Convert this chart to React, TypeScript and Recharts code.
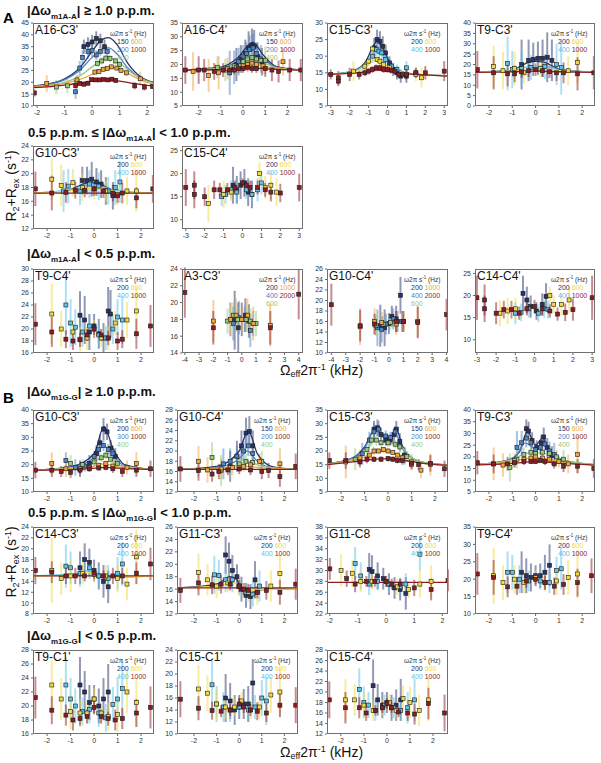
import React from 'react';
import { ComposedChart, Scatter, Line, XAxis, YAxis, ErrorBar } from 'recharts';

type P = [number, number, number];
type C = [number, number];

const NAVY = '#28336a';
const BLUE = '#4c84c6';
const CYAN = '#5dc1ec';
const GREEN = '#96ca78';
const ORANGE = '#f1a43a';
const YELLOW = '#f2d93b';
const RED = '#8c1c24';
const FONT = '"Liberation Sans", Arial, Helvetica, sans-serif';

// ---------- legends ----------
const LEG_A: [string, string][][] = [[['150', NAVY], ['600', ORANGE]], [['200', BLUE], ['1000', RED]], [['400', GREEN]]];
const LEG_C: [string, string][][] = [[['200', NAVY], ['600', YELLOW]], [['400', CYAN], ['1000', RED]]];
const LEG_D: [string, string][][] = [[['200', NAVY], ['1000', ORANGE]], [['400', BLUE], ['2000', RED]], [['600', GREEN]]];
const LEG_E: [string, string][][] = [[['200', NAVY], ['600', ORANGE]], [['300', BLUE], ['1000', RED]], [['400', GREEN]]];

// ---------- ticks ----------
const T2 = [-2, -1, 0, 1, 2];
const T3 = [-3, -2, -1, 0, 1, 2, 3];
const T4 = [-4, -3, -2, -1, 0, 1, 2, 3, 4];

// ---------- 1: A16-C3' ----------
const d1_1000: P[] = [[-2.1, 15.5, 1.5], [-0.6, 18.6, 1], [-0.45, 19.5, 0.8], [-0.3, 19.2, 1], [-0.15, 19.6, 1], [-0.02, 21.1, 0.8], [0.12, 21, 0.8], [0.27, 21, 0.8], [0.42, 21.2, 0.8], [0.57, 21, 0.8], [0.72, 21.3, 0.8], [0.86, 20.8, 1], [1.55, 18.5, 1.5], [1.9, 18, 1.5], [2.2, 18.2, 1]];
const d1_600: P[] = [[-1.65, 19.5, 3.5], [-0.55, 21, 2], [0.1, 24.3, 1], [0.25, 24.6, 1], [0.4, 25.5, 1], [0.55, 25.8, 1], [0.7, 26.5, 1], [0.9, 26, 1], [1.05, 25, 1.2], [1.25, 24, 1.5], [1.75, 21.5, 3]];
const d1_400: P[] = [[-1.3, 18, 3], [-0.9, 18.5, 3], [-0.55, 20, 3], [0.2, 28, 1.5], [0.35, 29, 1.5], [0.5, 30.2, 1.5], [0.65, 30, 1.5], [0.85, 29, 1.5], [1.0, 27.5, 1.5]];
const d1_200: P[] = [[-0.6, 16, 3], [-0.45, 26, 3], [-0.35, 30.5, 3], [-0.15, 33, 3], [0.0, 33.5, 3], [0.15, 31.5, 2], [0.3, 33, 2], [0.55, 33, 2]];
const d1_150: P[] = [[-0.3, 35, 3], [-0.15, 36, 3], [0.0, 37, 3], [0.15, 38.5, 3], [0.3, 37.5, 3], [0.45, 35, 3]];
const f1_1000: C[] = [[-2.15, 17.8], [-1.5, 18.2], [-1, 18.8], [-0.5, 19.6], [0, 20.5], [0.5, 21], [1, 20.5], [1.5, 19.5], [2, 18.7], [2.25, 18.4]];
const f1_600: C[] = [[-2.15, 18], [-1.5, 18.6], [-1, 19.5], [-0.5, 21], [0, 23.3], [0.5, 25.8], [0.8, 26.2], [1.1, 25], [1.5, 22.5], [2, 20], [2.25, 19.3]];
const f1_400: C[] = [[-2.15, 18.2], [-1.5, 18.9], [-1, 20], [-0.5, 22.3], [0, 26.5], [0.4, 29.7], [0.65, 30.2], [1, 28], [1.5, 23.5], [2, 20.5], [2.25, 19.6]];
const f1_200: C[] = [[-2.15, 18.4], [-1.5, 19.3], [-1, 21], [-0.5, 24.5], [0, 30.5], [0.35, 34], [0.6, 34.5], [0.9, 32], [1.3, 26], [1.8, 21.5], [2.25, 19.9]];
const f1_150: C[] = [[-2.15, 18.5], [-1.5, 19.5], [-1, 21.5], [-0.5, 25.5], [0, 33], [0.35, 38], [0.6, 38.8], [0.9, 36], [1.3, 28], [1.8, 22], [2.25, 20]];

// ---------- 2: A16-C4' ----------
const d2_1000: P[] = [[-2.6, 18, 5], [-2.0, 18, 5], [-1.75, 18, 4], [-1.3, 17.5, 3], [-0.9, 18, 2.5], [-0.6, 18, 2], [-0.4, 18, 1.5], [-0.2, 18.5, 1.5], [0, 18.5, 1.5], [0.2, 19, 1.5], [0.4, 18.5, 1.5], [0.6, 18.5, 1.5], [1.0, 18.5, 3], [1.3, 18, 4], [1.6, 17.5, 4], [2.1, 18, 4], [2.6, 18, 4]];
const d2_600: P[] = [[-2.25, 17.5, 7], [-1.55, 16, 6], [-1.1, 17, 6], [-0.7, 18.5, 4], [-0.3, 19, 3], [0, 19.5, 2], [0.2, 20, 2], [0.4, 20.5, 2], [0.6, 20, 2], [0.9, 19.5, 3], [1.8, 21, 5]];
const d2_400: P[] = [[-1.15, 19, 4], [-0.8, 18, 4], [-0.4, 19.5, 3], [0, 21, 2.5], [0.2, 22, 2.5], [0.4, 22.5, 2.5], [0.6, 22, 2.5], [0.8, 21.5, 3], [1.0, 21.5, 5]];
const d2_200: P[] = [[-0.6, 17, 8], [-0.4, 19, 6], [-0.2, 21, 5], [0, 23, 4], [0.15, 24, 4], [0.3, 25.5, 5], [0.45, 26, 5], [0.6, 24, 4], [0.8, 22, 5]];
const d2_150: P[] = [[-0.3, 20, 6], [-0.1, 22, 5], [0.1, 24, 5], [0.25, 26, 6], [0.4, 27, 6], [0.5, 26.5, 6], [0.65, 23, 5], [0.85, 21, 5]];
const f2_1000: C[] = [[-2.75, 18], [-1, 18.2], [0, 18.6], [0.4, 18.8], [1, 18.4], [2.7, 18]];
const f2_600: C[] = [[-2.75, 18], [-1, 18.4], [-0.3, 19.3], [0.4, 20.5], [0.9, 19.6], [1.5, 18.5], [2.7, 18]];
const f2_400: C[] = [[-2.75, 18], [-1, 18.6], [-0.3, 20], [0.4, 22.5], [0.9, 20.8], [1.5, 18.8], [2.7, 18]];
const f2_200: C[] = [[-2.75, 18], [-1, 18.8], [-0.3, 21], [0.4, 25], [0.9, 22], [1.5, 19], [2.7, 18]];
const f2_150: C[] = [[-2.75, 18], [-1, 19], [-0.3, 22], [0.45, 28], [0.9, 23.5], [1.5, 19.2], [2.7, 18]];

// ---------- 3: C15-C3' ----------
const d3_1000: P[] = [[-3.0, 14.5, 1.5], [-2.6, 13.5, 2], [-2.6, 12.5, 1.5], [-2.0, 14.5, 2], [-1.5, 14.5, 1.5], [-1.2, 15, 1], [-1.0, 15.5, 1], [-0.8, 16, 1], [-0.6, 16.5, 1], [-0.4, 16.5, 1], [-0.2, 16, 1], [0, 16, 1], [0.2, 15.8, 1], [0.4, 15.5, 1], [0.6, 14.5, 1], [0.8, 14.5, 1], [1.0, 14.5, 1.5], [1.5, 15, 1.5], [2.0, 15, 2], [3.0, 15.5, 3]];
const d3_600: P[] = [[-1.8, 15.5, 3], [-1.2, 17, 2], [-1.0, 18.5, 1.5], [-0.8, 22.2, 1.5], [-0.55, 19, 1], [-0.4, 18.5, 1], [-0.2, 17.5, 1], [0.1, 16.5, 1], [1.5, 14.5, 2], [1.8, 13.5, 3]];
const d3_400: P[] = [[-0.8, 20, 2], [-0.6, 22, 2], [-0.45, 21.5, 2], [-0.3, 21, 2], [-0.1, 19, 1.5], [0.2, 17, 1.5], [0.5, 16, 1.5], [1.0, 16.5, 2], [1.5, 15, 1.5]];
const d3_200: P[] = [[-0.7, 22.5, 3], [-0.55, 25, 3], [-0.4, 24.5, 3], [-0.25, 23, 3], [-0.1, 21, 2.5], [0.1, 18, 2], [0.3, 16, 2], [0.5, 15, 2], [0.7, 14, 2], [1.0, 14, 2]];
const f3_1000: C[] = [[-3.2, 14.5], [-2, 14.8], [-1.2, 15.3], [-0.6, 15.8], [0, 15.5], [0.6, 14.9], [1.5, 14.5], [3.2, 14]];
const f3_600: C[] = [[-3.2, 14.5], [-2, 15], [-1.2, 16.5], [-0.8, 18.5], [-0.5, 18.8], [-0.2, 17.8], [0.3, 16], [0.8, 15], [1.5, 14.6], [3.2, 14.1]];
const f3_400: C[] = [[-3.2, 14.5], [-2, 15.2], [-1.2, 17.5], [-0.75, 21], [-0.5, 21.5], [-0.2, 20], [0.3, 16.8], [0.8, 15.2], [1.5, 14.6], [3.2, 14.1]];
const f3_200: C[] = [[-3.2, 14.5], [-2, 15.3], [-1.2, 18], [-0.8, 22.5], [-0.55, 24.5], [-0.3, 23], [0.1, 18.5], [0.6, 15.5], [1.5, 14.6], [3.2, 14.1]];

// ---------- 4: T9-C3' ----------
const d4_1000: P[] = [[-2.5, 17.5, 9], [-1.8, 16, 8], [-1.2, 15.5, 6], [-0.9, 15.5, 4], [-0.6, 16.5, 3], [-0.3, 17, 3], [0, 17.5, 3], [0.3, 17, 3], [0.6, 16.5, 3], [0.9, 16, 4], [1.2, 16, 5], [1.8, 15.5, 8], [2.5, 16, 8]];
const d4_600: P[] = [[-1.8, 19, 10], [-1.4, 17, 9], [-0.9, 18, 8], [-0.5, 16, 5], [0.2, 18, 4], [1.4, 17, 7], [1.8, 21, 10]];
const d4_400: P[] = [[-1.2, 20.5, 13], [-1.0, 17.5, 9], [-0.6, 18, 8], [-0.2, 18.5, 6], [0.4, 19, 6], [0.9, 20, 10], [1.1, 18.5, 13]];
const d4_200: P[] = [[-0.6, 20, 12], [-0.3, 22, 10], [-0.1, 22.5, 8], [0.1, 23, 8], [0.3, 23, 9], [0.5, 23.5, 12], [0.7, 22, 10]];
const f4_1000: C[] = [[-2.6, 16.2], [-1, 16.5], [0, 16.8], [1, 16.5], [2.55, 16.2]];
const f4_600: C[] = [[-2.6, 16.3], [-1, 16.8], [-0.5, 17.5], [0, 18], [0.5, 17.8], [1, 17], [2.55, 16.3]];
const f4_400: C[] = [[-2.6, 16.3], [-1, 17], [-0.5, 18.5], [0, 19.3], [0.5, 19], [1, 17.5], [2.55, 16.3]];
const f4_200: C[] = [[-2.6, 16.3], [-1, 17.2], [-0.6, 19.5], [-0.3, 21], [0, 21.5], [0.3, 21.3], [0.6, 20], [1, 17.8], [2.55, 16.3]];

// ---------- 5: G10-C3' ----------
const d5_1000: P[] = [[-2.5, 17.8, 2.5], [-1.8, 17.2, 2.5], [-1.2, 17.3, 1.5], [-0.8, 17.6, 1.2], [-0.4, 17.6, 1], [0, 17.8, 1], [0.4, 17.5, 1], [0.8, 17.2, 1.2], [1.0, 16.8, 1], [1.2, 17.2, 1.5], [1.8, 16.5, 1.5], [2.5, 17.8, 2]];
const d5_600: P[] = [[-1.8, 19.2, 3], [-1.4, 18.3, 3], [-0.9, 18.7, 2], [-0.5, 18, 2], [0, 17.8, 1.5], [0.5, 17.5, 1.5], [1.0, 17, 1.5], [1.4, 17.5, 2], [1.8, 17.5, 3]];
const d5_400: P[] = [[-1.3, 17.5, 3], [-1.1, 18.2, 2.5], [-0.6, 17.5, 2], [-0.2, 18.5, 2], [0.2, 18.2, 2], [0.6, 17.5, 2], [0.9, 18, 2.5], [1.1, 18.8, 3]];
const d5_200: P[] = [[-0.5, 19, 2], [-0.3, 19, 2], [-0.1, 19.2, 2.5], [0.1, 18.8, 2], [0.3, 18.5, 2], [0.5, 17.5, 2], [0.8, 16.8, 2]];
const f5_1000: C[] = [[-2.6, 17.2], [0, 17.2], [2.5, 17.2]];
const f5_600: C[] = [[-2.6, 17.2], [-1, 17.5], [0, 17.9], [1, 17.4], [2.5, 17.2]];
const f5_400: C[] = [[-2.6, 17.2], [-1, 17.7], [-0.1, 18.5], [1, 17.5], [2.5, 17.2]];
const f5_200: C[] = [[-2.6, 17.2], [-1.2, 17.5], [-0.2, 18.7], [0.2, 18.5], [1, 17.4], [2.5, 17.2]];

// ---------- 6: C15-C4' ----------
const d6_1000: P[] = [[-3.0, 17, 4], [-2.55, 15.5, 3], [-2.55, 17.5, 3], [-2.0, 15, 2], [-1.5, 16.5, 2], [-1.2, 16.5, 1.5], [-0.8, 16.5, 1.5], [-0.4, 17, 1.5], [0, 18, 1], [0.2, 17.5, 1], [0.4, 17, 1.5], [0.8, 17, 1.5], [1.2, 16.5, 1.5], [1.5, 16, 2], [2.0, 15.8, 2], [3.0, 17, 3]];
const d6_600: P[] = [[-1.8, 13.5, 4], [-1.0, 15.5, 3], [-0.6, 16, 2], [0.9, 20, 2.5], [1.2, 17, 2.5], [1.5, 17.5, 3], [1.8, 16, 3]];
const d6_400: P[] = [[-1.1, 15, 2], [-0.9, 15.5, 2], [-0.6, 16.5, 2], [-0.3, 16, 2.5], [0.2, 16.5, 2], [0.5, 15.5, 2], [0.8, 16.5, 2.5], [1.0, 18, 2.5]];
const d6_200: P[] = [[-0.5, 17.5, 4], [-0.3, 16.5, 3], [-0.1, 17.5, 3], [0.1, 18, 3], [0.3, 16, 3], [0.5, 15.5, 3]];

// ---------- 7: T9-C4' (A) ----------
const d7_1000: P[] = [[-2.5, 20.8, 3.5], [-1.8, 19.5, 2.5], [-1.2, 18.3, 1.5], [-0.9, 18, 1.5], [-0.6, 18.2, 1.2], [-0.3, 19, 1], [0, 20, 1], [0.3, 19, 1], [0.6, 18.5, 1.2], [1.0, 18, 1.5], [1.2, 18.3, 1.5], [1.8, 19.2, 2.5], [2.4, 20.5, 3.5]];
const d7_600: P[] = [[-1.8, 22.5, 5], [-1.4, 20, 3], [-0.9, 19.5, 2], [-0.6, 18.3, 2], [-0.3, 18.5, 2], [0, 20, 1.5], [0.3, 18.5, 1.5], [0.6, 18.5, 2], [0.9, 21, 2], [1.4, 21.5, 3], [1.8, 23, 4]];
const d7_400: P[] = [[-1.2, 24, 5], [-1.0, 21, 4], [-0.8, 20.3, 3], [-0.5, 19.5, 2.5], [-0.2, 20.5, 2], [0.2, 19, 2], [0.5, 18.5, 2], [0.8, 20, 2.5], [1.0, 22, 3], [1.2, 21.5, 4]];
const d7_200: P[] = [[-0.6, 22.3, 4], [-0.4, 21.5, 4], [-0.2, 19.5, 3], [0, 20.5, 2], [0.2, 19.2, 2.5], [0.4, 18.5, 2.5], [0.6, 23, 4], [0.7, 22.5, 4]];

// ---------- 8: A3-C3' ----------
const d8_2000: P[] = [[-4, 21.2, 3], [-2, 17, 2], [2, 17, 2], [4, 21, 3]];
const d8_1000: P[] = [[-2, 17.8, 2.5], [-0.8, 18, 2], [-0.4, 18.5, 2], [0, 18, 1.5], [0.4, 18.5, 2], [0.8, 17.5, 2], [2, 17.3, 2.5]];
const d8_600: P[] = [[-1.0, 17.8, 1.5], [-0.6, 18.5, 1.5], [-0.3, 18, 1.5], [0.3, 18, 1.5], [0.6, 17.8, 1.5], [1.0, 17.5, 1.5]];
const d8_400: P[] = [[-0.8, 18, 2], [-0.6, 17.5, 2], [-0.2, 18.2, 2], [0.2, 18, 1.5], [0.6, 16.7, 2], [0.8, 17.5, 1.5]];
const d8_200: P[] = [[-0.5, 17.9, 3.5], [-0.25, 17, 3], [0, 18, 2], [0.25, 18.5, 2], [0.5, 17.8, 2]];

// ---------- 9: G10-C4' (A) ----------
const d9_2000: P[] = [[-4, 19.2, 4], [-2, 15.2, 3], [-1, 15.5, 2], [0.5, 16, 2], [1, 16, 2], [2, 15.8, 3], [4, 17.3, 3]];
const d9_1000: P[] = [[-2, 15, 3.5], [-1, 16, 2.5], [-0.5, 15.8, 2], [0.5, 15.5, 2], [1, 16, 2], [2, 16, 3]];
const d9_600: P[] = [[-0.9, 15.2, 2], [-0.4, 15.5, 1.5], [0.1, 15.8, 1.5], [0.5, 15.8, 1.5], [1, 16, 1.5]];
const d9_400: P[] = [[-0.8, 14.8, 3.5], [-0.5, 14.5, 2.5], [-0.2, 15.5, 2], [0.3, 16.5, 2], [0.6, 16, 2], [0.9, 16, 2]];
const d9_200: P[] = [[-0.6, 15.2, 4], [-0.3, 14.8, 3.5], [0, 15.6, 2], [0.2, 17, 2], [0.5, 16.5, 2.5], [0.8, 21, 3.5]];

// ---------- 10: C14-C4' ----------
const d10_1000: P[] = [[-3, 19.5, 5], [-2.6, 19, 3.5], [-2.6, 17, 3], [-2, 16, 2.5], [-1.6, 16.8, 2], [-1.2, 16.8, 2], [-0.8, 16, 1.5], [-0.4, 17, 1.5], [0, 17.5, 1.5], [0.4, 17, 1.5], [0.8, 16.5, 1.5], [1.2, 15.8, 1.5], [1.6, 16.2, 2], [2, 16.8, 2.5], [3, 19.5, 5]];
const d10_600: P[] = [[-1.8, 16, 3], [-1.4, 16.5, 3], [-1.0, 17, 2.5], [0.8, 20, 2], [1.0, 18, 2], [1.4, 18, 2.5], [1.8, 19, 3]];
const d10_400: P[] = [[-1.0, 16, 2.5], [-0.7, 16.2, 2], [-0.3, 17, 2], [0.2, 16, 2], [0.5, 17, 2], [0.7, 16.8, 2]];
const d10_200: P[] = [[-0.6, 20.5, 4], [-0.4, 19, 3], [-0.2, 17.5, 2.5], [0.1, 16.5, 2], [0.4, 18, 2.5], [0.6, 19.8, 3]];

// ---------- 11: G10-C3' (B) ----------
const d11_1000: P[] = [[-2.5, 18, 3], [-1.8, 18, 2.5], [-1.4, 17.5, 2], [-1, 17.2, 2], [-0.6, 18, 1.5], [-0.2, 18.5, 1], [0.2, 18.8, 1], [0.5, 19, 1], [0.8, 18.5, 1.5], [1.2, 17.5, 2], [1.8, 18, 2.5], [2.4, 18.5, 3]];
const d11_600: P[] = [[-1.8, 20.5, 4], [-1.2, 18.5, 3], [-0.6, 18.5, 2], [-0.2, 19, 1.5], [0.2, 19.8, 1], [0.5, 20.5, 1], [0.8, 19.5, 1.5], [1.4, 19, 2.5], [1.8, 20.5, 4]];
const d11_400: P[] = [[-1.0, 20.5, 3], [-0.5, 20, 2], [0, 21, 1.5], [0.3, 22.5, 1.5], [0.5, 23.5, 1.5], [0.7, 22, 1.5], [1.0, 20.5, 2]];
const d11_300: P[] = [[-1.2, 21.5, 3], [-0.8, 19, 3], [-0.4, 19.5, 2], [0, 23, 2], [0.2, 25.5, 2], [0.4, 27, 2], [0.6, 25.5, 2], [0.8, 24, 3]];
const d11_200: P[] = [[-0.6, 18.5, 3], [-0.2, 20.5, 3], [0.1, 24, 3], [0.25, 28, 3], [0.4, 33, 4], [0.55, 32, 3], [0.7, 26, 3], [0.9, 23, 3]];
const f11_1000: C[] = [[-2.6, 18], [-1, 18.2], [0, 18.7], [0.5, 19], [1, 18.7], [2.5, 18.2]];
const f11_600: C[] = [[-2.6, 18], [-1, 18.5], [0, 19.5], [0.4, 20.3], [1, 19.2], [2.5, 18.2]];
const f11_400: C[] = [[-2.6, 18], [-1, 18.8], [0, 21], [0.45, 23], [1, 20], [2.5, 18.2]];
const f11_300: C[] = [[-2.6, 18], [-1, 19], [0, 22.5], [0.4, 27], [0.8, 23.5], [1.3, 19.5], [2.5, 18.2]];
const f11_200: C[] = [[-2.6, 18], [-1, 19.2], [0, 24], [0.42, 34], [0.8, 26], [1.3, 20], [2.5, 18.2]];

// ---------- 12: G10-C4' (B) ----------
const d12_1000: P[] = [[-2.6, 16.5, 2.5], [-1.8, 16.2, 2], [-1.2, 15.5, 1.5], [-0.9, 16, 1.5], [-0.5, 16.3, 1], [0, 16.5, 1], [0.5, 16.3, 1], [1.0, 16, 1.5], [1.3, 16.2, 1.5], [1.8, 15, 2], [2.5, 17, 2.5]];
const d12_600: P[] = [[-1.8, 18, 3], [-1.4, 16.3, 2.5], [-0.8, 16.5, 2], [-0.3, 16.8, 1.5], [0.2, 17, 1], [0.5, 17.3, 1], [0.9, 18, 1.5], [1.8, 17.5, 3]];
const d12_400: P[] = [[-1.2, 18.7, 3], [-0.8, 16.2, 3], [-0.4, 16.8, 2], [0, 17.5, 1.5], [0.3, 18, 1.5], [0.6, 17.8, 1.5], [1.0, 18, 2]];
const d12_200: P[] = [[-0.7, 17.5, 3], [-0.4, 18, 2.5], [-0.1, 19, 2], [0.2, 20, 2], [0.4, 21, 2], [0.6, 19.5, 2]];
const d12_150: P[] = [[-0.4, 17, 3], [-0.1, 19, 3], [0.1, 21, 3], [0.3, 23.5, 3], [0.45, 23.8, 3], [0.6, 21, 3]];
const f12_1000: C[] = [[-2.75, 16.4], [0, 16.4], [2.6, 16.4]];
const f12_600: C[] = [[-2.75, 16.4], [-1, 16.5], [0.3, 17], [1, 16.7], [2.6, 16.4]];
const f12_400: C[] = [[-2.75, 16.4], [-1, 16.6], [0, 17.4], [0.35, 18], [1, 17], [2.6, 16.4]];
const f12_200: C[] = [[-2.75, 16.4], [-1, 16.8], [0, 18.5], [0.35, 20], [0.8, 18], [1.5, 16.7], [2.6, 16.4]];
const f12_150: C[] = [[-2.75, 16.4], [-1, 17], [0, 20], [0.4, 24], [0.8, 19.5], [1.5, 16.9], [2.6, 16.4]];

// ---------- 13: C15-C3' (B) ----------
const d13_1000: P[] = [[-2.5, 16.5, 3], [-1.8, 16.5, 3], [-1.2, 16, 2], [-0.9, 17, 1.5], [-0.6, 17, 1], [-0.3, 17, 1], [0, 17.2, 1], [0.2, 17, 1], [0.4, 16.5, 1], [0.6, 16.5, 1.5], [1.0, 15.5, 2], [1.3, 15, 2], [1.8, 15.5, 3], [2.4, 13.5, 3]];
const d13_600: P[] = [[-1.8, 16, 6], [-1.2, 17.5, 3], [-0.8, 18.5, 2], [-0.6, 20, 1.5], [-0.4, 20, 1], [-0.2, 20.5, 1], [0, 20, 1], [0.2, 19.5, 1], [0.4, 18.5, 1], [0.6, 17.5, 1.5], [1, 15, 2], [1.4, 13, 3], [1.8, 15, 4]];
const d13_400: P[] = [[-1.4, 17, 4], [-0.9, 20.5, 3], [-0.7, 24, 2], [-0.5, 24, 2], [-0.3, 23, 1.5], [0, 23, 1.5], [0.3, 22.5, 1.5], [0.5, 21.5, 1.5], [0.8, 18, 2], [1.0, 16, 3]];
const d13_200: P[] = [[-1.1, 19, 4], [-0.8, 24, 3], [-0.6, 27, 3], [-0.4, 28, 3], [-0.1, 25.5, 2], [0.1, 25, 2], [0.3, 27, 2], [0.5, 22, 2.5], [0.7, 18, 3]];
const d13_150: P[] = [[-0.6, 28, 3], [-0.45, 28.5, 3], [-0.3, 26, 2.5], [-0.1, 24, 2], [0.1, 24, 2], [0.25, 26, 2.5], [0.35, 28, 3], [0.5, 23.5, 3], [0.7, 18.5, 3]];
const f13_1000: C[] = [[-2.6, 15], [-1.5, 16], [-0.5, 17], [0, 17.2], [0.5, 16.8], [1.5, 15.5], [2.5, 14.8]];
const f13_600: C[] = [[-2.6, 15.2], [-1.5, 16.5], [-1, 17.8], [-0.5, 19.8], [0, 19.8], [0.5, 18.5], [1, 16.5], [1.5, 15.5], [2.5, 14.8]];
const f13_400: C[] = [[-2.6, 15.3], [-1.5, 17], [-1, 19.5], [-0.6, 23.5], [0, 23], [0.5, 22], [1, 17.5], [1.5, 15.8], [2.5, 14.9]];
const f13_200: C[] = [[-2.6, 15.3], [-1.5, 17.5], [-1, 21], [-0.6, 27.5], [-0.2, 26], [0.1, 24.5], [0.3, 26.5], [0.6, 21], [1, 17.5], [1.5, 15.8], [2.5, 14.9]];
const f13_150: C[] = [[-2.6, 15.3], [-1.5, 17.5], [-1, 21.5], [-0.55, 28], [-0.2, 25], [0.1, 24], [0.35, 28], [0.6, 22], [1, 17.5], [1.5, 15.8], [2.5, 14.9]];

// ---------- 14: T9-C3' (B) ----------
const d14_1000: P[] = [[-2.5, 17.5, 5], [-1.8, 17, 4], [-1.2, 17, 3], [-0.9, 17.5, 2], [-0.5, 18, 1.5], [-0.2, 18, 1], [0, 18, 1], [0.2, 18.5, 1], [0.4, 18, 1.5], [0.8, 17, 2], [1.2, 16, 2.5], [1.8, 16, 3], [2.5, 15, 4]];
const d14_600: P[] = [[-1.8, 17, 7], [-1.4, 16.5, 5], [-0.9, 18.5, 3], [-0.5, 19, 2], [-0.2, 19.5, 1.5], [0, 20, 1], [0.3, 19.5, 1.5], [0.6, 19, 1.5], [1.0, 18, 2.5], [1.4, 17, 4], [1.8, 21, 8]];
const d14_400: P[] = [[-1.1, 15.5, 6], [-0.8, 19, 4], [-0.5, 21, 3], [-0.2, 22, 2], [0, 21.5, 2], [0.3, 22, 2], [0.6, 21.5, 2.5], [0.9, 20, 3], [1.2, 19, 4]];
const d14_200: P[] = [[-0.8, 24, 7], [-0.6, 26, 5], [-0.4, 28, 4], [-0.2, 26, 3], [0, 23, 3], [0.2, 24, 3], [0.4, 25.5, 3], [0.6, 22.5, 4], [0.8, 21, 5]];
const d14_150: P[] = [[-0.4, 32, 4], [-0.3, 31, 4], [-0.15, 27, 3.5], [0.05, 24, 3], [0.25, 26, 3.5], [0.35, 28.5, 4], [0.5, 24, 4], [0.7, 20.5, 4]];
const f14_1000: C[] = [[-2.6, 16.5], [-1, 17.2], [0, 18], [1, 17.3], [2.5, 16.5]];
const f14_600: C[] = [[-2.6, 16.6], [-1, 18], [-0.3, 19.5], [0, 19.8], [0.4, 19.5], [1, 18], [2.5, 16.6]];
const f14_400: C[] = [[-2.6, 16.6], [-1, 18.8], [-0.4, 21.5], [0, 21.8], [0.4, 21.5], [1, 19], [2.5, 16.7]];
const f14_200: C[] = [[-2.6, 16.7], [-1.2, 18.5], [-0.8, 21], [-0.45, 26], [-0.1, 24], [0.1, 23.5], [0.35, 25], [0.7, 21.5], [1.2, 18.5], [2.5, 16.7]];
const f14_150: C[] = [[-2.6, 16.7], [-1.2, 18.5], [-0.7, 22], [-0.35, 31], [0, 25], [0.3, 28], [0.6, 22.5], [1.2, 18.5], [2.5, 16.7]];

// ---------- 15: C14-C3' ----------
const d15_1000: P[] = [[-2.5, 16, 2.5], [-1.8, 15.7, 2], [-1.2, 15, 1.5], [-0.8, 15, 1.5], [-0.4, 15, 1], [0, 15.5, 1], [0.4, 15, 1], [0.8, 15, 1.5], [1.2, 15, 1.5], [1.8, 15.5, 2], [2.4, 17.2, 3]];
const d15_600: P[] = [[-1.8, 16, 6], [-1.4, 14.5, 3], [-1.0, 15, 3], [-0.5, 15.5, 2], [0, 15.3, 1.5], [0.5, 15, 2], [1.0, 14.5, 2.5], [1.4, 13.5, 3], [1.8, 18.5, 5]];
const d15_400: P[] = [[-1.2, 16.8, 4], [-1.0, 16.5, 3], [-0.6, 15.5, 2.5], [-0.2, 16.5, 2], [0.2, 15, 2], [0.6, 14.5, 2.5], [1.0, 15.5, 3], [1.2, 17.2, 4]];
const d15_200: P[] = [[-0.6, 16.5, 3], [-0.4, 18, 3], [-0.2, 17.5, 2.5], [0, 16, 2], [0.2, 15, 2.5], [0.4, 14, 3], [0.6, 13, 3]];
const f15_1000: C[] = [[-2.6, 15], [0, 15], [2.5, 15]];
const f15_600: C[] = [[-2.6, 15], [-0.8, 15.2], [-0.2, 15.6], [0.2, 15.1], [0.8, 14.8], [2.5, 15]];
const f15_400: C[] = [[-2.6, 15], [-0.8, 15.4], [-0.2, 16], [0.2, 14.9], [0.8, 14.7], [2.5, 15]];

// ---------- 16: G11-C3' ----------
const d16_1000: P[] = [[-2.6, 15.8, 2], [-1.8, 17, 2], [-1.2, 16.7, 1.5], [-0.8, 16.8, 1.5], [-0.4, 16.8, 1], [0, 16.5, 1], [0.2, 16, 1], [0.4, 15.8, 1], [0.8, 15.5, 1], [1.2, 15.8, 1.5], [1.8, 15.5, 2], [2.5, 16.8, 2.5]];
const d16_600: P[] = [[-1.8, 18.7, 3], [-1.4, 17.5, 2.5], [-1.0, 16.5, 2], [-0.5, 17, 1.5], [0, 16.5, 1.5], [0.4, 15.5, 1.5], [0.8, 15.5, 2], [1.4, 16.5, 2.5], [1.8, 18.5, 3]];
const d16_400: P[] = [[-1.1, 18.3, 3], [-0.9, 18.2, 2.5], [-0.6, 17.5, 2], [-0.3, 17.5, 2], [0, 16.5, 1.5], [0.3, 15.5, 1.5], [0.6, 15.2, 2], [0.9, 16.5, 2.5]];
const d16_200: P[] = [[-0.6, 21.5, 3], [-0.45, 20.5, 3], [-0.3, 19, 2.5], [-0.1, 18, 2], [0.1, 16, 2], [0.3, 15, 2], [0.5, 14.8, 2], [0.7, 17.5, 3]];
const f16_1000: C[] = [[-2.75, 16.2], [0, 16.2], [2.6, 16.2]];
const f16_600: C[] = [[-2.75, 16.2], [-1, 16.5], [-0.2, 17], [0.2, 15.8], [1, 15.9], [2.6, 16.1]];
const f16_200: C[] = [[-2.75, 16.2], [-1, 16.8], [-0.4, 18], [-0.1, 17.5], [0.1, 15.8], [0.4, 15.3], [1, 15.9], [2.6, 16.1]];

// ---------- 17: G11-C8 ----------
const d17_1000: P[] = [[-2.0, 30.3, 2], [-1.4, 28.5, 1.5], [-1.1, 27.5, 1.5], [-0.7, 28, 1], [-0.4, 28, 1], [0, 28, 1], [0.2, 27.5, 1], [0.5, 27.5, 1], [1.0, 26.8, 1.5], [1.6, 26.5, 2], [2.2, 28.2, 2]];
const d17_600: P[] = [[-1.6, 30, 3], [-1.2, 29.5, 2.5], [-0.9, 28, 2], [-0.5, 28, 1.5], [0, 28, 1], [0.4, 27, 1.5], [0.8, 26.5, 1.5], [1.2, 27.5, 2.5], [1.6, 28, 3]];
const d17_400: P[] = [[-1.1, 31.3, 3], [-0.9, 29, 2.5], [-0.6, 27.5, 2], [-0.3, 28, 1.5], [0.1, 27.5, 1.5], [0.5, 27, 1.5], [0.7, 27.5, 2], [1.2, 33, 3]];
const d17_200: P[] = [[-0.6, 30.2, 3], [-0.5, 29.8, 3], [-0.3, 29, 2.5], [-0.1, 28.5, 2], [0.1, 27.5, 2], [0.3, 26.8, 2], [0.5, 26.5, 2], [0.7, 25.8, 3]];
const f17_1000: C[] = [[-2.1, 27.8], [0, 27.8], [2.2, 27.8]];

// ---------- 18: T9-C4' (B) ----------
const d18_1000: P[] = [[-2.5, 21.5, 6], [-1.8, 20.5, 5], [-1.2, 17.8, 3], [-0.8, 18, 2.5], [-0.4, 19.5, 2], [0, 20, 1.5], [0.4, 19, 2], [0.8, 18, 2.5], [1.2, 18.5, 3], [1.8, 19, 4], [2.4, 21, 5]];
const d18_600: P[] = [[-1.8, 21, 8], [-1.4, 19, 5], [-0.9, 20, 4], [-0.5, 19, 3], [0, 20.5, 2], [0.4, 19, 2.5], [0.9, 19.5, 4], [1.4, 20.5, 5], [1.8, 21.5, 7]];
const d18_400: P[] = [[-1.2, 22, 6], [-1.0, 22, 5], [-0.7, 20, 4], [-0.3, 19.5, 3], [0.2, 19.5, 2.5], [0.6, 19, 3], [0.9, 22.5, 4], [1.1, 23, 6]];
const d18_200: P[] = [[-0.6, 22, 6], [-0.4, 21, 5], [-0.2, 20.5, 4], [0, 21, 3], [0.2, 21, 3.5], [0.4, 22, 5], [0.6, 24, 6]];

// ---------- 19: T9-C1' ----------
const d19_1000: P[] = [[-2.5, 21.2, 3], [-1.8, 19.4, 2], [-1.2, 18.7, 1.5], [-0.9, 18, 1.5], [-0.6, 18.2, 1], [-0.3, 18.5, 1], [0, 19.8, 1], [0.3, 18.5, 1], [0.6, 18.2, 1], [0.9, 18, 1.5], [1.2, 18.2, 1.5], [1.8, 19, 2], [2.4, 19.8, 3]];
const d19_600: P[] = [[-1.8, 23, 3.5], [-1.4, 21, 3], [-1.0, 19.2, 2.5], [-0.6, 19, 2], [-0.3, 19, 1.5], [0, 21, 1.5], [0.3, 19, 1.5], [0.6, 18.5, 2], [1.0, 18.8, 2.5], [1.4, 22, 3], [1.8, 20.5, 3.5]];
const d19_400: P[] = [[-1.2, 23, 4], [-1.0, 21, 3], [-0.8, 20, 2.5], [-0.5, 19.2, 2], [-0.2, 19.5, 2], [0.2, 19, 2], [0.5, 18.3, 2], [0.8, 20.2, 2.5], [1.0, 21, 3], [1.2, 22.5, 4]];
const d19_200: P[] = [[-0.6, 23, 4], [-0.4, 22, 3], [-0.2, 20.5, 2.5], [0, 21, 2], [0.2, 20, 2.5], [0.4, 21, 3], [0.6, 22, 4]];

// ---------- 20: C15-C1' ----------
const d20_1000: P[] = [[-2.6, 15.8, 3], [-1.8, 14.3, 2], [-1.2, 13.9, 1.5], [-0.8, 13.8, 1], [-0.4, 14, 1], [0, 15, 1], [0.2, 14.5, 1], [0.5, 14, 1], [0.8, 13.8, 1.5], [1.2, 13.5, 1.5], [1.8, 14.8, 2], [2.5, 14.8, 3]];
const d20_600: P[] = [[-1.8, 17.5, 4], [-1.4, 16.8, 3], [-1.0, 15, 2.5], [-0.6, 14.5, 2], [-0.2, 14.5, 1.5], [0.1, 15.5, 1.5], [0.5, 14, 1.5], [0.9, 14.5, 2], [1.4, 16.5, 3], [1.8, 17, 4]];
const d20_400: P[] = [[-1.2, 18.2, 4], [-1.0, 15, 3], [-0.7, 14.5, 2.5], [-0.4, 14, 2], [0, 14.5, 1.5], [0.4, 14, 2], [0.7, 14.5, 2], [1.0, 16, 3], [1.2, 15.5, 4]];
const d20_200: P[] = [[-0.6, 16, 4], [-0.4, 15.5, 3], [-0.2, 14, 2.5], [0, 14.5, 2], [0.2, 15, 2.5], [0.4, 15, 3], [0.6, 18.5, 4]];

// ---------- 21: C15-C4' (B) ----------
const d21_1000: P[] = [[-2.5, 18.5, 3.5], [-1.8, 17, 3], [-1.2, 17, 2], [-0.9, 16, 1.5], [-0.5, 16.5, 1], [-0.2, 17, 1], [0, 17.8, 1], [0.2, 17, 1], [0.5, 16.2, 1], [0.9, 16, 1.5], [1.2, 15.8, 2], [1.8, 17.8, 3], [2.5, 16, 3.5]];
const d21_600: P[] = [[-1.8, 18.5, 4], [-1.4, 18.5, 3], [-1, 17.5, 2.5], [-0.6, 16.5, 2], [-0.2, 17, 1.5], [0.1, 18, 1.5], [0.4, 16.5, 1.5], [0.7, 18.8, 2.5], [1, 18, 3], [1.4, 16.5, 3], [1.8, 18.5, 4]];
const d21_400: P[] = [[-1.2, 20.5, 4], [-1.0, 18, 3], [-0.8, 17.5, 2.5], [-0.5, 16.5, 2], [-0.1, 17.5, 2], [0.3, 17, 2], [0.6, 16.5, 2], [0.9, 17, 3], [1.2, 18.5, 4]];
const d21_200: P[] = [[-0.6, 21.2, 5], [-0.4, 18.5, 3], [-0.2, 17.5, 2.5], [0, 18, 2], [0.2, 17, 2.5], [0.4, 17.5, 3], [0.6, 18.5, 4]];

// ---------- panel layout ----------
interface PanelDef {
  t: string;
  box: [number, number, number, number];
  xd: [number, number];
  xt: number[];
  yd: [number, number];
  yt: number[];
  leg: [string, string][][];
  s: [string, P[]][];
  f: [string, C[]][];
}

const range = (a: number, b: number, st: number) => {
  const r: number[] = [];
  for (let v = a; v <= b + 1e-9; v += st) r.push(Math.round(v * 100) / 100);
  return r;
};

const CA = [33, 182, 327, 475];
const CB = [33, 177, 327, 475];
const W = 121;
const XD: [number, number] = [-2.6, 2.55];

const PANELS: PanelDef[] = [
  { t: "A16-C3'", box: [CA[0], 23, W, 83], xd: [-2.15, 2.25], xt: T2, yd: [10, 45], yt: range(10, 45, 5), leg: LEG_A,
    s: [[NAVY, d1_150], [BLUE, d1_200], [GREEN, d1_400], [ORANGE, d1_600], [RED, d1_1000]],
    f: [[NAVY, f1_150], [BLUE, f1_200], [GREEN, f1_400], [ORANGE, f1_600], [RED, f1_1000]] },
  { t: "A16-C4'", box: [CA[1], 23, W, 83], xd: [-2.75, 2.7], xt: T2, yd: [5, 35], yt: range(5, 35, 5), leg: LEG_A,
    s: [[NAVY, d2_150], [BLUE, d2_200], [GREEN, d2_400], [ORANGE, d2_600], [RED, d2_1000]],
    f: [[NAVY, f2_150], [BLUE, f2_200], [GREEN, f2_400], [ORANGE, f2_600], [RED, f2_1000]] },
  { t: "C15-C3'", box: [CA[2], 23, W, 83], xd: [-3.2, 3.2], xt: T3, yd: [5, 30], yt: range(5, 30, 5), leg: LEG_C,
    s: [[NAVY, d3_200], [CYAN, d3_400], [YELLOW, d3_600], [RED, d3_1000]],
    f: [[NAVY, f3_200], [CYAN, f3_400], [YELLOW, f3_600], [RED, f3_1000]] },
  { t: "T9-C3'", box: [CA[3], 23, 120, 83], xd: XD, xt: T2, yd: [0, 40], yt: range(0, 40, 5), leg: LEG_C,
    s: [[NAVY, d4_200], [CYAN, d4_400], [YELLOW, d4_600], [RED, d4_1000]],
    f: [[NAVY, f4_200], [CYAN, f4_400], [YELLOW, f4_600], [RED, f4_1000]] },

  { t: "G10-C3'", box: [CA[0], 146, W, 83], xd: XD, xt: T2, yd: [12, 24], yt: range(12, 24, 2), leg: LEG_C,
    s: [[NAVY, d5_200], [CYAN, d5_400], [YELLOW, d5_600], [RED, d5_1000]],
    f: [[NAVY, f5_200], [CYAN, f5_400], [YELLOW, f5_600], [RED, f5_1000]] },
  { t: "C15-C4'", box: [CA[1], 146, W, 83], xd: [-3.2, 3.2], xt: T3, yd: [8, 26], yt: [10, 15, 20, 25], leg: LEG_C,
    s: [[NAVY, d6_200], [CYAN, d6_400], [YELLOW, d6_600], [RED, d6_1000]], f: [] },

  { t: "T9-C4'", box: [CA[0], 269, W, 84], xd: XD, xt: T2, yd: [16, 30], yt: range(16, 30, 2), leg: LEG_C,
    s: [[NAVY, d7_200], [CYAN, d7_400], [YELLOW, d7_600], [RED, d7_1000]], f: [] },
  { t: "A3-C3'", box: [CA[1], 269, W, 84], xd: [-4.2, 4.3], xt: T4, yd: [14, 24], yt: range(14, 24, 2), leg: LEG_D,
    s: [[NAVY, d8_200], [BLUE, d8_400], [GREEN, d8_600], [ORANGE, d8_1000], [RED, d8_2000]], f: [] },
  { t: "G10-C4'", box: [CA[2], 269, W, 84], xd: [-4.3, 4.1], xt: T4, yd: [10, 26], yt: range(10, 26, 2), leg: LEG_D,
    s: [[NAVY, d9_200], [BLUE, d9_400], [GREEN, d9_600], [ORANGE, d9_1000], [RED, d9_2000]], f: [] },
  { t: "C14-C4'", box: [CA[3], 269, 120, 84], xd: [-3.1, 3.15], xt: T3, yd: [7, 26], yt: [10, 15, 20, 25], leg: LEG_C,
    s: [[NAVY, d10_200], [CYAN, d10_400], [YELLOW, d10_600], [RED, d10_1000]], f: [] },

  { t: "G10-C3'", box: [CB[0], 410, W, 82], xd: XD, xt: T2, yd: [10, 40], yt: range(10, 40, 5), leg: LEG_E,
    s: [[NAVY, d11_200], [BLUE, d11_300], [GREEN, d11_400], [ORANGE, d11_600], [RED, d11_1000]],
    f: [[NAVY, f11_200], [BLUE, f11_300], [GREEN, f11_400], [ORANGE, f11_600], [RED, f11_1000]] },
  { t: "G10-C4'", box: [CB[1], 410, W, 82], xd: [-2.75, 2.6], xt: T2, yd: [12, 28], yt: range(12, 28, 2), leg: LEG_A,
    s: [[NAVY, d12_150], [BLUE, d12_200], [GREEN, d12_400], [ORANGE, d12_600], [RED, d12_1000]],
    f: [[NAVY, f12_150], [BLUE, f12_200], [GREEN, f12_400], [ORANGE, f12_600], [RED, f12_1000]] },
  { t: "C15-C3'", box: [CB[2], 410, W, 82], xd: XD, xt: T2, yd: [5, 35], yt: range(5, 35, 5), leg: LEG_A,
    s: [[NAVY, d13_150], [BLUE, d13_200], [GREEN, d13_400], [ORANGE, d13_600], [RED, d13_1000]],
    f: [[NAVY, f13_150], [BLUE, f13_200], [GREEN, f13_400], [ORANGE, f13_600], [RED, f13_1000]] },
  { t: "T9-C3'", box: [CB[3], 410, 120, 82], xd: XD, xt: T2, yd: [5, 40], yt: range(5, 40, 5), leg: LEG_A,
    s: [[NAVY, d14_150], [BLUE, d14_200], [GREEN, d14_400], [ORANGE, d14_600], [RED, d14_1000]],
    f: [[NAVY, f14_150], [BLUE, f14_200], [GREEN, f14_400], [ORANGE, f14_600], [RED, f14_1000]] },

  { t: "C14-C3'", box: [CB[0], 527, W, 87], xd: XD, xt: T2, yd: [8, 24], yt: range(8, 24, 2), leg: LEG_C,
    s: [[NAVY, d15_200], [CYAN, d15_400], [YELLOW, d15_600], [RED, d15_1000]],
    f: [[CYAN, f15_400], [YELLOW, f15_600], [RED, f15_1000]] },
  { t: "G11-C3'", box: [CB[1], 527, W, 87], xd: [-2.75, 2.6], xt: T2, yd: [12, 26], yt: range(12, 26, 2), leg: LEG_C,
    s: [[NAVY, d16_200], [CYAN, d16_400], [YELLOW, d16_600], [RED, d16_1000]],
    f: [[NAVY, f16_200], [YELLOW, f16_600], [RED, f16_1000]] },
  { t: 'G11-C8', box: [CB[2], 527, W, 87], xd: [-2.1, 2.2], xt: T2, yd: [22, 38], yt: range(22, 38, 2), leg: LEG_C,
    s: [[NAVY, d17_200], [CYAN, d17_400], [YELLOW, d17_600], [RED, d17_1000]],
    f: [[RED, f17_1000]] },
  { t: "T9-C4'", box: [CB[3], 527, 120, 87], xd: XD, xt: T2, yd: [10, 35], yt: range(10, 35, 5), leg: LEG_C,
    s: [[NAVY, d18_200], [CYAN, d18_400], [YELLOW, d18_600], [RED, d18_1000]], f: [] },

  { t: "T9-C1'", box: [CB[0], 650, W, 84], xd: XD, xt: T2, yd: [16, 28], yt: range(16, 28, 2), leg: LEG_C,
    s: [[NAVY, d19_200], [CYAN, d19_400], [YELLOW, d19_600], [RED, d19_1000]], f: [] },
  { t: "C15-C1'", box: [CB[1], 650, W, 84], xd: [-2.75, 2.6], xt: T2, yd: [10, 24], yt: range(10, 24, 2), leg: LEG_C,
    s: [[NAVY, d20_200], [CYAN, d20_400], [YELLOW, d20_600], [RED, d20_1000]], f: [] },
  { t: "C15-C4'", box: [CB[2], 650, W, 84], xd: [-2.6, 2.65], xt: T2, yd: [12, 28], yt: range(12, 28, 2), leg: LEG_C,
    s: [[NAVY, d21_200], [CYAN, d21_400], [YELLOW, d21_600], [RED, d21_1000]], f: [] },
];

const YW = 16;
const XH = 12;
const MT = 6;
const MR = 6;
const tickStyle = { fontSize: 7, fill: '#333', fontFamily: FONT };

function Panel({ p }: { p: PanelDef }) {
  const [bl, bt, w, h] = p.box;
  const ser = p.s.map(([c, pts]) => ({ c, data: pts.map(([x, y, e]) => ({ x, y, e })) }));
  const cur = p.f.map(([c, pts]) => ({ c, data: pts.map(([x, y]) => ({ x, y })) }));
  return (
    <>
      <div style={{ position: 'absolute', left: bl - YW, top: bt - MT }}>
        <ComposedChart width={YW + w + MR} height={MT + h + XH} margin={{ top: MT, right: MR, bottom: 0, left: 0 }}>
          <XAxis type="number" dataKey="x" domain={p.xd} ticks={p.xt} allowDataOverflow interval={0} height={XH}
            axisLine={false} tickLine={{ stroke: '#666' }} tickSize={2} tick={tickStyle} />
          <YAxis type="number" dataKey="y" domain={p.yd} ticks={p.yt} allowDataOverflow interval={0} width={YW}
            axisLine={false} tickLine={{ stroke: '#666' }} tickSize={2} tick={tickStyle} />
          {ser.map((s, i) => (
            <Scatter key={'e' + i} data={s.data} dataKey="y" isAnimationActive={false} shape={() => <g />}>
              <ErrorBar dataKey="e" direction="y" width={0} stroke={s.c} strokeWidth={2} strokeOpacity={0.5} isAnimationActive={false} />
            </Scatter>
          ))}
          {cur.map((c, i) => (
            <Line key={'l' + i} data={c.data} dataKey="y" type="monotone" stroke={c.c} strokeWidth={1.3}
              dot={false} activeDot={false} isAnimationActive={false} />
          ))}
          {ser.map((s, i) => (
            <Scatter key={'m' + i} data={s.data} dataKey="y" isAnimationActive={false}
              shape={(q: any) => (
                <rect x={q.cx - 2} y={q.cy - 2} width={4} height={4} fill={s.c} stroke="#1b1b1b" strokeWidth={0.6} />
              )} />
          ))}
        </ComposedChart>
      </div>
      <div style={{ position: 'absolute', left: bl, top: bt, width: w, height: h, border: '1px solid #707070', boxSizing: 'border-box', pointerEvents: 'none' }} />
      <div style={{ position: 'absolute', left: bl + 2, top: bt + 1, fontSize: 12, lineHeight: '12px', fontFamily: FONT, color: '#111' }}>{p.t}</div>
      <div style={{ position: 'absolute', left: bl + w - 44, top: bt + 5, width: 42, fontFamily: FONT }}>
        <div style={{ fontSize: 6.5, lineHeight: '8px', color: '#333', whiteSpace: 'nowrap' }}>
          ω2π s<sup style={{ fontSize: 4.5 }}>-1</sup> (Hz)
        </div>
        {p.leg.map((row, i) => (
          <div key={i} style={{ fontSize: 7, lineHeight: '8px', paddingLeft: 7, whiteSpace: 'nowrap' }}>
            {row.map(([lab, col], j) => (
              <span key={j} style={{ color: col, marginRight: 2 }}>{lab}</span>
            ))}
          </div>
        ))}
      </div>
    </>
  );
}

function Head({ x, y, sub, pre, post }: { x: number; y: number; sub: string; pre: string; post: string }) {
  return (
    <div style={{ position: 'absolute', left: x, top: y, fontSize: 13, lineHeight: '15px', fontWeight: 'bold', fontFamily: FONT, whiteSpace: 'nowrap', color: '#111' }}>
      {pre}|Δω<span style={{ fontSize: 8, position: 'relative', top: 4 }}>{sub}</span>| {post}
    </div>
  );
}

const YLabel = ({ cy }: { cy: number }) => (
  <div style={{ position: 'absolute', left: 12, top: cy, transform: 'translate(-50%, -50%) rotate(-90deg)', fontSize: 14, lineHeight: '16px', fontFamily: FONT, whiteSpace: 'nowrap', color: '#111' }}>
    R<span style={{ fontSize: 9, position: 'relative', top: 3 }}>2</span>+R<span style={{ fontSize: 9, position: 'relative', top: 3 }}>ex</span> (s<span style={{ fontSize: 9, position: 'relative', top: -5 }}>-1</span>)
  </div>
);

const XLabel = ({ y }: { y: number }) => (
  <div style={{ position: 'absolute', left: 280, top: y, fontSize: 14, lineHeight: '16px', fontFamily: FONT, whiteSpace: 'nowrap', color: '#111' }}>
    Ω<span style={{ fontSize: 9, position: 'relative', top: 2 }}>eff</span>2π<span style={{ fontSize: 9, position: 'relative', top: -5 }}>-1</span> (kHz)
  </div>
);

export default function App() {
  return (
    <div style={{ position: 'absolute', left: 0, top: 0, width: 601, height: 763, background: '#fff', overflow: 'hidden' }}>
      <div style={{ position: 'absolute', left: 3, top: 10, fontSize: 15, lineHeight: '15px', fontWeight: 'bold', fontFamily: FONT }}>A</div>
      <div style={{ position: 'absolute', left: 3, top: 390, fontSize: 15, lineHeight: '15px', fontWeight: 'bold', fontFamily: FONT }}>B</div>
      <Head x={27} y={3} sub="m1A-A" pre="" post="≥ 1.0 p.p.m." />
      <Head x={28} y={125} sub="m1A-A" pre="0.5 p.p.m. ≤ " post="< 1.0 p.p.m." />
      <Head x={27} y={246} sub="m1A-A" pre="" post="< 0.5 p.p.m." />
      <Head x={27} y={384} sub="m1G-G" pre="" post="≥ 1.0 p.p.m." />
      <Head x={28} y={505} sub="m1G-G" pre="0.5 p.p.m. ≤ " post="< 1.0 p.p.m." />
      <Head x={27} y={628} sub="m1G-G" pre="" post="< 0.5 p.p.m." />
      <YLabel cy={186} />
      <YLabel cy={562} />
      <XLabel y={362} />
      <XLabel y={744} />
      {PANELS.map((p, i) => <Panel key={i} p={p} />)}
    </div>
  );
}
